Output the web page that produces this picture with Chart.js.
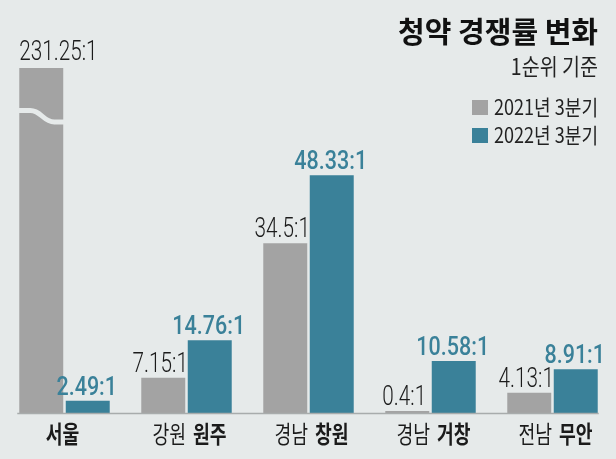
<!DOCTYPE html>
<html>
<head>
<meta charset="utf-8">
<script src="https://cdn.jsdelivr.net/npm/chart.js@4"></script>
<style>
  html, body { margin: 0; padding: 0; background: #e6eaea; }
  canvas { display: block; }
</style>
</head>
<body>
<canvas id="chart" width="616" height="459"></canvas>
<script>
// Data
const regionNames = ['', '강원', '경남', '경남', '전남'];
const cityNames = ['서울', '원주', '창원', '거창', '무안'];
const rate2021 = [231.25, 7.15, 34.5, 0.4, 4.13];
const rate2022 = [2.49, 14.76, 48.33, 10.58, 8.91];
const seriesNames = ['2021년 3분기', '2022년 3분기'];
const axisCut = 70.1; // the Seoul bar is broken above this

const titleText = '청약 경쟁률 변화';
const subtitleText = '1순위 기준';

const bgColor = '#e6eaea';
const grayColor = '#a3a3a3';
const tealColor = '#3a8199';
const ink = '#1b1b1b';

const krFont = '"Noto Sans CJK KR", "Noto Sans", sans-serif';
const numFont = 'Roboto, "Liberation Sans", sans-serif';

// draw text squeezed horizontally (the original uses a condensed face)
function squeezedText(ctx, text, x, y, font, color, align, sx) {
    ctx.save();
    ctx.font = font;
    ctx.fillStyle = color;
    ctx.textAlign = align;
    ctx.translate(x, y);
    ctx.scale(sx, 1);
    ctx.fillText(text, 0, 0);
    ctx.restore();
}

function textWidth(ctx, text, font, sx) {
    ctx.save();
    ctx.font = font;
    const w = ctx.measureText(text).width * sx;
    ctx.restore();
    return w;
}

const decorPlugin = {
    id: 'decor',
    afterDatasetsDraw(chart) {
        const ctx = chart.ctx;
        const area = chart.chartArea;
        const xScale = chart.scales.x;

        // axis line under the bars
        const first = chart.getDatasetMeta(0).data[0];
        const lastMeta = chart.getDatasetMeta(1).data;
        const last = lastMeta[lastMeta.length - 1];
        ctx.save();
        ctx.strokeStyle = '#a8acac';
        ctx.lineWidth = 1.3;
        ctx.beginPath();
        ctx.moveTo(first.x - first.width / 2 - 2, area.bottom + 0.5);
        ctx.lineTo(last.x + last.width / 2 + 1, area.bottom + 0.5);
        ctx.stroke();
        ctx.restore();

        // value labels and break marks
        chart.data.datasets.forEach((ds, di) => {
            const meta = chart.getDatasetMeta(di);
            meta.data.forEach((bar, i) => {
                const value = ds.data[i];
                const label = value + ':1';
                const left = bar.x - bar.width / 2;
                const right = bar.x + bar.width / 2;
                const clipped = value > axisCut;
                const top = clipped ? area.top : bar.y;

                if (clipped) {
                    const y0 = area.top + 42.5;
                    ctx.save();
                    ctx.strokeStyle = bgColor;
                    ctx.lineWidth = 5;
                    ctx.beginPath();
                    ctx.moveTo(left - 1, y0);
                    ctx.lineTo(left + 11, y0);
                    ctx.bezierCurveTo(left + 22, y0, left + 24, y0 + 11.5, left + 35, y0 + 11.5);
                    ctx.lineTo(right + 1, y0 + 11.5);
                    ctx.stroke();
                    ctx.restore();
                }

                let font, color, sx, shift;
                if (di === 0) {
                    font = '300 28px ' + numFont;
                    color = ink;
                    sx = 0.74;
                    shift = -3;
                } else {
                    font = '500 25px ' + numFont;
                    color = tealColor;
                    sx = 0.86;
                    shift = -1;
                }
                if (clipped) {
                    squeezedText(ctx, label, left, top - 8, font, color, 'left', sx);
                } else {
                    squeezedText(ctx, label, bar.x + shift, top - 6, font, color, 'center', sx);
                }
            });
        });

        // category labels: region in regular, city in bold
        const catFont = '24px ' + krFont;
        const catBold = 'bold 24px ' + krFont;
        const sx = 0.76;
        const gap = 7;
        cityNames.forEach((city, i) => {
            const cx = xScale.getPixelForValue(i) + 3;
            const cy = area.bottom + 21;
            const region = regionNames[i];
            ctx.save();
            ctx.textBaseline = 'middle';
            if (region) {
                const w1 = textWidth(ctx, region, catFont, sx);
                const w2 = textWidth(ctx, city, catBold, sx);
                const x0 = cx - (w1 + gap + w2) / 2;
                squeezedText(ctx, region, x0, cy, catFont, ink, 'left', sx);
                squeezedText(ctx, city, x0 + w1 + gap, cy, catBold, ink, 'left', sx);
            } else {
                squeezedText(ctx, city, cx - 5, cy, catBold, ink, 'center', sx);
            }
            ctx.restore();
        });
    },
    afterDraw(chart) {
        const ctx = chart.ctx;
        const rightX = 598;
        ctx.save();
        ctx.textBaseline = 'middle';
        squeezedText(ctx, titleText, rightX, 32, 'bold 29px ' + krFont, '#111', 'right', 1);
        squeezedText(ctx, subtitleText, rightX, 66, '23px ' + krFont, '#222', 'right', 0.85);

        const colors = [grayColor, tealColor];
        seriesNames.forEach((name, i) => {
            const cy = 107.5 + i * 28;
            ctx.fillStyle = colors[i];
            ctx.fillRect(472, cy - 7.5, 16, 15);
            squeezedText(ctx, name, rightX, cy, '21px ' + krFont, '#222', 'right', 0.86);
        });
        ctx.restore();
    }
};

new Chart(document.getElementById('chart'), {
    type: 'bar',
    data: {
        labels: cityNames,
        datasets: [
            {
                label: seriesNames[0],
                data: rate2021,
                backgroundColor: grayColor,
                borderWidth: 0,
                categoryPercentage: 0.762,
                barPercentage: 0.946
            },
            {
                label: seriesNames[1],
                data: rate2022,
                backgroundColor: tealColor,
                borderWidth: 0,
                categoryPercentage: 0.762,
                barPercentage: 0.946
            }
        ]
    },
    options: {
        responsive: false,
        animation: false,
        layout: {
            padding: { left: 3.5, right: 2.5, top: 68, bottom: 46 }
        },
        scales: {
            x: { display: false },
            y: { display: false, min: 0, max: axisCut }
        },
        plugins: {
            legend: { display: false },
            tooltip: { enabled: false },
            title: { display: false }
        }
    },
    plugins: [decorPlugin]
});
</script>
</body>
</html>
